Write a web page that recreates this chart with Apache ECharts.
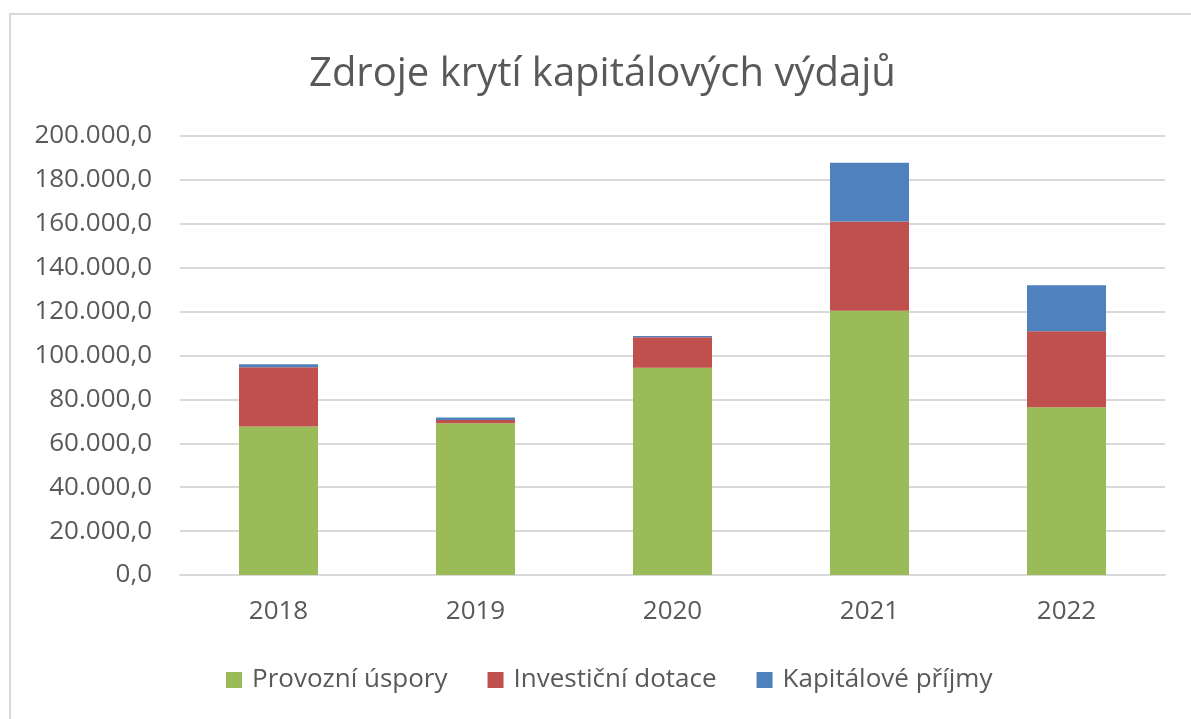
<!DOCTYPE html>
<html>
<head>
<meta charset="utf-8">
<script src="https://cdn.jsdelivr.net/npm/echarts@6/dist/echarts.min.js"></script>
<style>
  html, body { margin: 0; padding: 0; background: #fff; }
  #frame { position: absolute; left: 9px; top: 13px; width: 1200px; height: 720px; border: 2px solid #d9d9d9; box-sizing: border-box; }
  #chart { position: absolute; left: 0; top: 0; width: 1191px; height: 719px; }
</style>
</head>
<body>
<div id="frame"></div>
<div id="chart"></div>
<script>
const years = ['2018', '2019', '2020', '2021', '2022'];
const provozniUspory = [67600, 69100, 94400, 120400, 76400];
const investicniDotace = [27000, 1500, 13900, 40600, 34600];
const kapitalovePrijmy = [1400, 1200, 600, 26800, 21000];

const textColor = '#595959';
const font = '"Open Sans", "Noto Sans", sans-serif';

// 200000 -> "200.000,0"
function czNumber(v) {
  const s = Math.round(v).toString().replace(/\B(?=(\d{3})+(?!\d))/g, '.');
  return s + ',0';
}

const chart = echarts.init(document.getElementById('chart'));

function barSeries(name, data, color) {
  return {
    name,
    type: 'bar',
    stack: 'total',
    barWidth: 79,
    data,
    itemStyle: { color },
    emphasis: { disabled: true },
  };
}

chart.setOption({
  animation: false,
  backgroundColor: 'transparent',
  title: {
    text: 'Zdroje krytí kapitálových výdajů',
    left: 304,
    top: 50,
    textStyle: { color: textColor, fontFamily: font, fontSize: 40, fontWeight: 'normal' },
  },
  grid: { left: 180, right: 26, top: 136, bottom: 144 },
  legend: {
    bottom: 21,
    left: 221,
    itemWidth: 16,
    itemHeight: 16,
    itemGap: 40,
    icon: 'rect',
    textStyle: { color: textColor, fontFamily: font, fontSize: 26, padding: [0, 0, 0, 5] },
    data: ['Provozní úspory', 'Investiční dotace', 'Kapitálové příjmy'],
  },
  xAxis: {
    type: 'category',
    data: years,
    axisLine: { lineStyle: { color: '#d9d9d9', width: 2 } },
    axisTick: { show: false },
    axisLabel: { color: textColor, fontFamily: font, fontSize: 26, margin: 24 },
  },
  yAxis: {
    type: 'value',
    min: 0,
    max: 200000,
    interval: 20000,
    axisLine: { show: false },
    axisTick: { show: false },
    splitLine: { lineStyle: { color: '#d9d9d9', width: 2 } },
    axisLabel: { color: textColor, fontFamily: font, fontSize: 26, margin: 28, formatter: czNumber },
  },
  series: [
    barSeries('Provozní úspory', provozniUspory, '#9bbb59'),
    barSeries('Investiční dotace', investicniDotace, '#c0504d'),
    barSeries('Kapitálové příjmy', kapitalovePrijmy, '#4f81bd'),
  ],
});
</script>
</body>
</html>
